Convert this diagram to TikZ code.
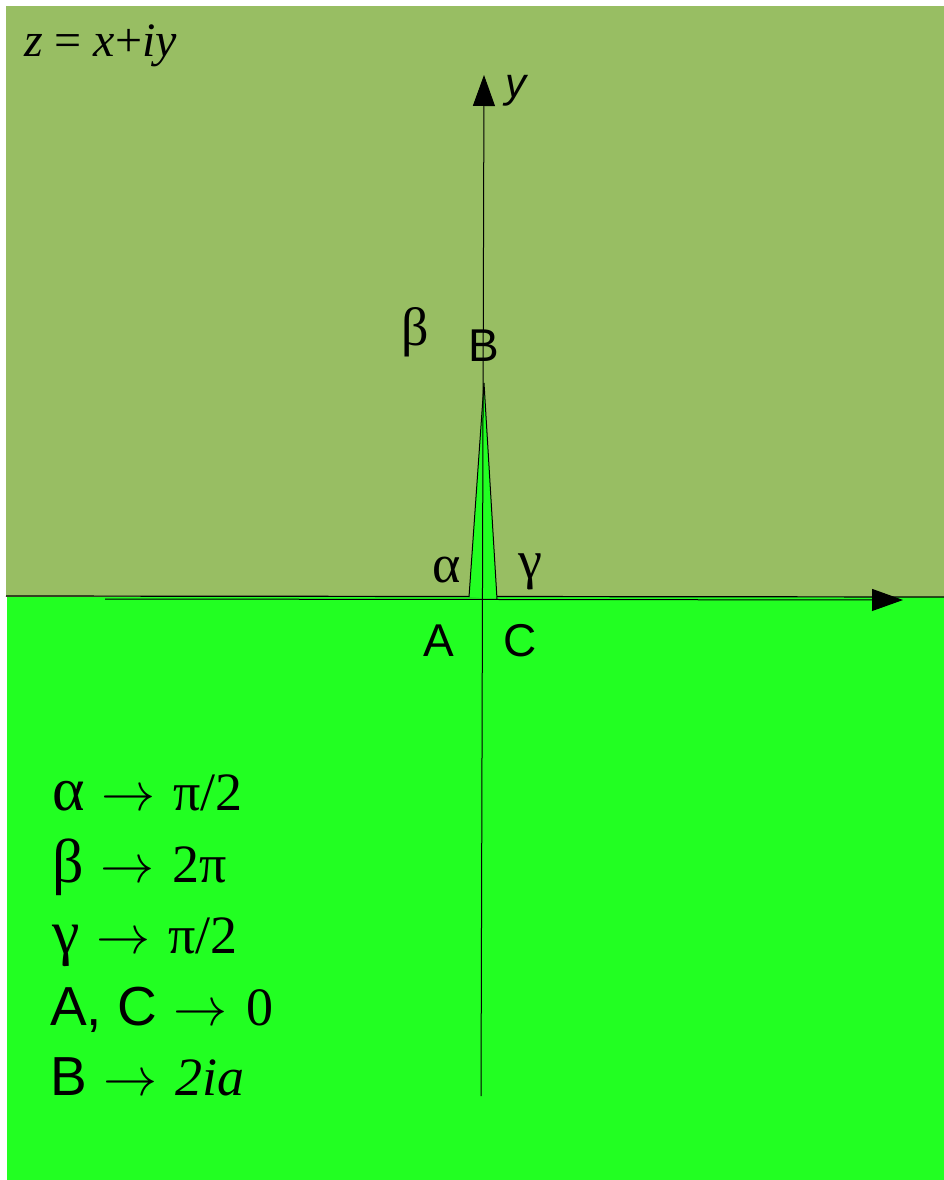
\documentclass[tikz,border=0pt]{standalone}
\usepackage{fontspec}
\setmainfont{Liberation Serif}
\setsansfont{Liberation Sans}
\usetikzlibrary{arrows.meta}
\definecolor{olive}{RGB}{152,190,99}
\definecolor{bright}{RGB}{34,255,34}
\newcommand\grk[1]{{\fontsize{62}{62}\selectfont #1}}
\newcommand\arr{\hspace{3pt}\scalebox{5.4}{\fontsize{10}{12}\selectfont$\rightarrow$}\hspace{5pt}}
\newcommand\sfbig[1]{{\fontsize{55}{58}\selectfont\sffamily #1}}
\tikzset{
  axis/.style={draw=black, line width=1pt, -{Triangle[length=31pt,width=22pt]}},
  serif/.style={font=\fontsize{54}{58}\selectfont\rmfamily},
  sanslbl/.style={font=\fontsize{46}{50}\selectfont\sffamily},
  listline/.style={anchor=base west, font=\fontsize{54}{58}\selectfont, inner sep=0pt},
}
\begin{document}
\begin{tikzpicture}[x=1pt,y=-1pt]
\useasboundingbox (0,0) rectangle (944,1180);
\fill[white] (0,0) rectangle (944,1180);
% regions
\fill[olive] (6,6) rectangle (944,597);
\fill[bright] (7,597) rectangle (944,1180);
\draw[line width=1.2pt] (6,596) -- (944,597);
% spike
\coordinate (sa) at (469,597);
\coordinate (sb) at (484,383);
\coordinate (sc) at (497,599);
\filldraw[fill=bright, draw=black, line width=1pt] (sa) -- (sb) -- (sc);
% axes
\coordinate (xs) at (105,599);
\coordinate (xe) at (903,600);
\coordinate (ys) at (481,1096);
\coordinate (ye) at (484,75);
\draw[axis] (xs) -- (xe);
\draw[axis] (ys) -- (ye);
% labels
\node[anchor=base west, inner sep=0pt, font=\fontsize{48}{52}\selectfont\itshape] (zlbl) at (24,57) {z {\upshape=} x{\upshape+}iy};
\node[anchor=base west, inner sep=0pt, font=\fontsize{42}{46}\selectfont\sffamily\itshape] (ylbl) at (505,98) {y};
\node[serif] (beta) at (415,332) {β};
\node[sanslbl] (B) at (484,346) {B};
\node[serif] (alpha) at (447,570) {α};
\node[serif] (gamma) at (530,572) {γ};
\node[sanslbl] (A) at (439,641) {A};
\node[sanslbl] (C) at (520,641) {C};
% list
\node[listline] (l1) at (52,810) {\grk{α} \arr{} π/2};
\node[listline] (l2) at (52,882) {\grk{β} \arr{} 2π};
\node[listline] (l3) at (52,953) {\grk{γ} \arr{} π/2};
\node[listline] (l4) at (50,1025) {\sfbig{A, C} \arr{} 0};
\node[listline] (l5) at (50,1095) {\sfbig{B} \arr{} \itshape 2ia};
\end{tikzpicture}
\end{document}
